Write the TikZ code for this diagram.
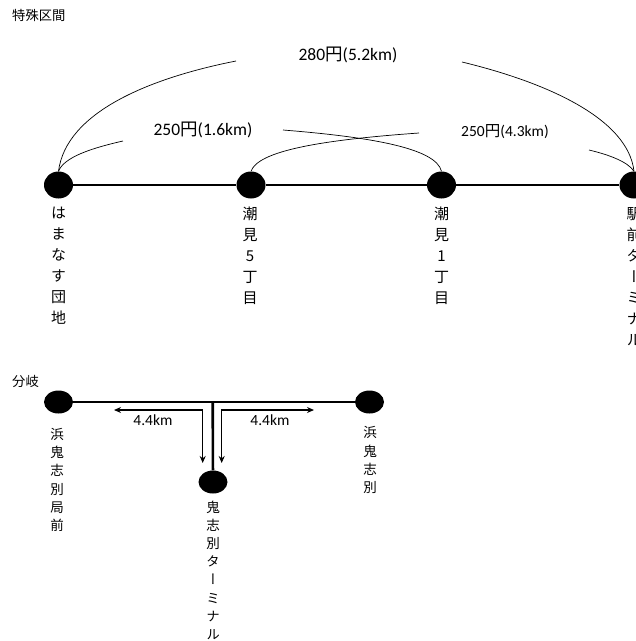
\documentclass[tikz,border=0pt]{standalone}
\usepackage{fontspec}
\setmainfont{Carlito}
\newfontfamily\cjk{Noto Sans CJK JP}
\newfontfamily\cjkv[RawFeature=+vert]{Noto Sans CJK JP}
\usetikzlibrary{arrows.meta,shapes.geometric}
\begin{document}
\begin{tikzpicture}[x=1pt,y=-1pt,
  stn/.style={shape=ellipse,fill=black,draw=none,inner sep=0pt,minimum width=29pt,minimum height=27pt},
  stnb/.style={shape=ellipse,fill=black,draw=none,inner sep=0pt,minimum width=29pt,minimum height=23pt},
  rail/.style={line width=2.6pt},
  arc/.style={line width=0.7pt},
  arr/.style={line width=1.4pt,{Stealth[length=7pt,width=6pt]}-{Stealth[length=7pt,width=6pt]}},
  vlab/.style={anchor=north,inner sep=0pt,align=center,font=\cjkv\fontsize{15}{21}\selectfont},
  vlabb/.style={anchor=north,inner sep=0pt,align=center,font=\cjkv\fontsize{13.5}{18.2}\selectfont},
  head/.style={anchor=west,inner sep=0pt,font=\cjk\fontsize{13.3}{15}\selectfont},
  fare/.style={inner sep=0pt,font=\fontsize{17.5}{20}\selectfont},
  fares/.style={inner sep=0pt,font=\fontsize{15.5}{18}\selectfont}
]
\useasboundingbox (0,0) rectangle (636,641);
% headings
\node[head] (h1) at (12,15.5) {特殊区間};
\node[head] (h2) at (12,381) {分岐};
% top stations
\node[stn] (n1) at (58.5,185) {};
\node[stn] (n2) at (251,185) {};
\node[stn] (n3) at (441.5,185) {};
\node[stn] (n4) at (634,185) {};
\draw[rail] (n1) -- (n2) -- (n3) -- (n4);
% labels under top stations
\node[vlab] (t1) at (58.5,207) {は\\ま\\な\\す\\団\\地};
\node[vlab] (t2) at (250,207) {潮\\見\\5\\丁\\目};
\node[vlab] (t3) at (441.5,207) {潮\\見\\1\\丁\\目};
\node[vlab] (t4) at (634,207) {駅\\前\\タ\\ー\\ミ\\ナ\\ル};
% fare labels
\node[fare] (f1) at (348,55) {280{\cjk 円}(5.2km)};
\node[fare] (f2) at (203,130) {250{\cjk 円}(1.6km)};
\node[fares] (f3) at (505,132) {250{\cjk 円}(4.3km)};
% arc ends
\coordinate (a1) at (236,61);
\coordinate (a2) at (462,62);
\coordinate (b1) at (123,141);
\coordinate (b2) at (283,130);
\coordinate (c1) at (419,133);
\coordinate (c2) at (589,150);
\draw[arc] (n1.north) .. controls (66,112) and (150,78) .. (a1);
\draw[arc] (a2) .. controls (545,82) and (628,118) .. (n4.north);
\draw[arc] (n1.north) .. controls (64,157) and (92,148) .. (b1);
\draw[arc] (b2) .. controls (370,137) and (436,148) .. (n3.north);
\draw[arc] (n2.north) .. controls (258,151) and (320,140) .. (c1);
\draw[arc] (c2) .. controls (610,155) and (628,162) .. (n4.north);
% bottom branch
\node[stnb] (m1) at (58.5,402) {};
\node[stnb] (m2) at (369.5,402) {};
\node[stnb] (m3) at (213,482) {};
\coordinate (j) at (212.7,402);
\draw[rail] (m1) -- (m2);
\draw[rail] (j) -- (m3);
\coordinate (la) at (114,410);
\coordinate (lc) at (202.7,410);
\coordinate (lb) at (202.7,463);
\coordinate (ra) at (314,410);
\coordinate (rc) at (221.7,410);
\coordinate (rb) at (221.7,463);
\draw[arr] (la) -- (lc) -- (lb);
\draw[arr] (ra) -- (rc) -- (rb);
\node[fares] (d1) at (153,420) {4.4km};
\node[fares] (d2) at (270,420) {4.4km};
\node[vlabb] (u1) at (57,428) {浜\\鬼\\志\\別\\局\\前};
\node[vlabb] (u2) at (370,426.5) {浜\\鬼\\志\\別};
\node[vlabb] (u3) at (213,500.5) {鬼\\志\\別\\タ\\ー\\ミ\\ナ\\ル};
\end{tikzpicture}
\end{document}
